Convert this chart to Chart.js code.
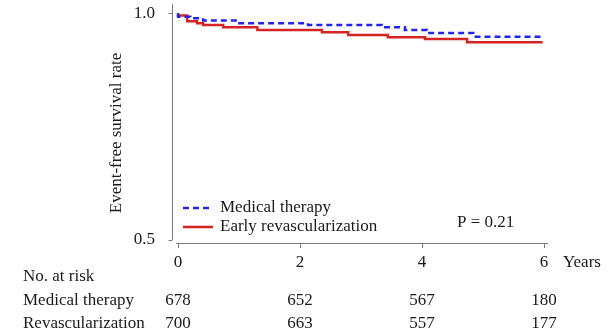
<!DOCTYPE html>
<html>
<head>
<meta charset="utf-8">
<script src="https://cdn.jsdelivr.net/npm/chart.js@4"></script>
<style>
  html, body { margin: 0; padding: 0; background: #fff; }
  #wrap { width: 612px; height: 335px; }
</style>
</head>
<body>
<div id="wrap"><canvas id="kmChart" width="612" height="335"></canvas></div>
<script>
/* Kaplan-Meier: Zeitpunkte der Stufen (Jahre) und Überlebensrate danach */
const medicalTimes = [0, 0.2, 0.41, 0.97, 2.13, 3.34, 3.72, 4.08, 4.84, 5.0, 5.98];
const medicalSurvival = [1.0, 0.992, 0.989, 0.984, 0.978, 0.974, 0.969, 0.963, 0.956, 0.948, 0.948];

const revascTimes = [0, 0.15, 0.31, 0.41, 0.74, 1.30, 2.36, 2.79, 3.44, 4.05, 4.74, 5.25, 5.98];
const revascSurvival = [1.0, 0.995, 0.982, 0.978, 0.974, 0.969, 0.963, 0.958, 0.952, 0.947, 0.943, 0.936, 0.936];

const xTicks = [0, 2, 4, 6];
const yTicks = [0.5, 1.0];

const riskTimes = [0, 2, 4, 6];
const riskMedical = [678, 652, 567, 180];
const riskRevasc = [700, 663, 557, 177];

const seriesLabels = ['Medical therapy', 'Early revascularization'];
const riskLabels = ['Medical therapy', 'Revascularization'];
const pValueText = 'P = 0.21';

const FONT = '17px "Liberation Serif", "DejaVu Serif", serif';
const TEXT = '#1a1a1a';
const AXIS = '#7a7a7a';

function toPoints(xs, ys) {
    return xs.map((x, i) => ({ x, y: ys[i] }));
}

// Achsen, Beschriftungen, Legende und Risikotabelle selbst zeichnen
const decorations = {
    id: 'decorations',
    afterDraw(chart) {
        const ctx = chart.ctx;
        const xs = chart.scales.x;
        const ys = chart.scales.y;
        const y05 = ys.getPixelForValue(0.5);
        const axisY = chart.chartArea.bottom;

        ctx.save();
        ctx.strokeStyle = AXIS;
        ctx.lineWidth = 1;

        // y-Achse
        const ax = chart.chartArea.left + 0.5;
        ctx.beginPath();
        ctx.moveTo(ax, 4);
        ctx.lineTo(ax, y05);
        yTicks.forEach((v) => {
            const py = Math.round(ys.getPixelForValue(v)) + 0.5;
            ctx.moveTo(ax - 4, py);
            ctx.lineTo(ax, py);
        });
        ctx.stroke();

        // x-Achse
        ctx.beginPath();
        ctx.moveTo(xs.getPixelForValue(-0.03), axisY + 0.5);
        ctx.lineTo(xs.getPixelForValue(6.07), axisY + 0.5);
        xTicks.forEach((v) => {
            const px = Math.round(xs.getPixelForValue(v)) + 0.5;
            ctx.moveTo(px, axisY);
            ctx.lineTo(px, axisY + 5);
        });
        ctx.stroke();

        ctx.fillStyle = TEXT;
        ctx.font = FONT;
        ctx.textBaseline = 'middle';

        // y-Tick-Beschriftung
        ctx.textAlign = 'right';
        yTicks.forEach((v) => {
            ctx.fillText(v.toFixed(1), 155, ys.getPixelForValue(v));
        });

        // x-Tick-Beschriftung
        ctx.textAlign = 'center';
        xTicks.forEach((v) => {
            ctx.fillText(String(v), xs.getPixelForValue(v), 263);
        });
        ctx.textAlign = 'left';
        ctx.fillText('Years', 563, 263);

        // y-Titel
        ctx.save();
        ctx.translate(117, 133);
        ctx.rotate(-Math.PI / 2);
        ctx.textAlign = 'center';
        ctx.fillText('Event-free survival rate', 0, 0);
        ctx.restore();

        // Legende
        chart.data.datasets.forEach((ds, i) => {
            const ly = 208 + i * 19;
            ctx.save();
            ctx.strokeStyle = ds.borderColor;
            ctx.lineWidth = ds.borderWidth;
            ctx.setLineDash(ds.borderDash || []);
            ctx.beginPath();
            ctx.moveTo(183, ly);
            ctx.lineTo(213, ly);
            ctx.stroke();
            ctx.restore();
            ctx.textAlign = 'left';
            ctx.fillText(ds.label, 220, ly);
        });
        ctx.fillText(pValueText, 457, 223);

        // Risikotabelle
        ctx.textAlign = 'left';
        ctx.fillText('No. at risk', 23, 277);
        ctx.fillText(riskLabels[0], 23, 301);
        ctx.fillText(riskLabels[1], 23, 324);
        ctx.textAlign = 'center';
        riskTimes.forEach((t, i) => {
            const px = xs.getPixelForValue(t);
            ctx.fillText(String(riskMedical[i]), px, 301);
            ctx.fillText(String(riskRevasc[i]), px, 324);
        });
        ctx.restore();
    }
};

new Chart(document.getElementById('kmChart').getContext('2d'), {
    type: 'line',
    data: {
        datasets: [
            {
                label: seriesLabels[0],
                data: toPoints(medicalTimes, medicalSurvival),
                borderColor: '#2424e6',
                borderWidth: 2.5,
                borderDash: [6, 4],
                stepped: 'after',
                pointRadius: 0,
                fill: false,
            },
            {
                label: seriesLabels[1],
                data: toPoints(revascTimes, revascSurvival),
                borderColor: '#d42424',
                borderWidth: 2.5,
                stepped: 'after',
                pointRadius: 0,
                fill: false,
            },
        ],
    },
    options: {
        responsive: false,
        animation: false,
        layout: { padding: { left: 172, right: 62, top: 5, bottom: 92 } },
        plugins: { legend: { display: false }, tooltip: { enabled: false } },
        scales: {
            x: { type: 'linear', min: -0.1, max: 6.1, display: false },
            y: { min: 0.493, max: 1.018, display: false },
        },
    },
    plugins: [decorations],
});
</script>
</body>
</html>
